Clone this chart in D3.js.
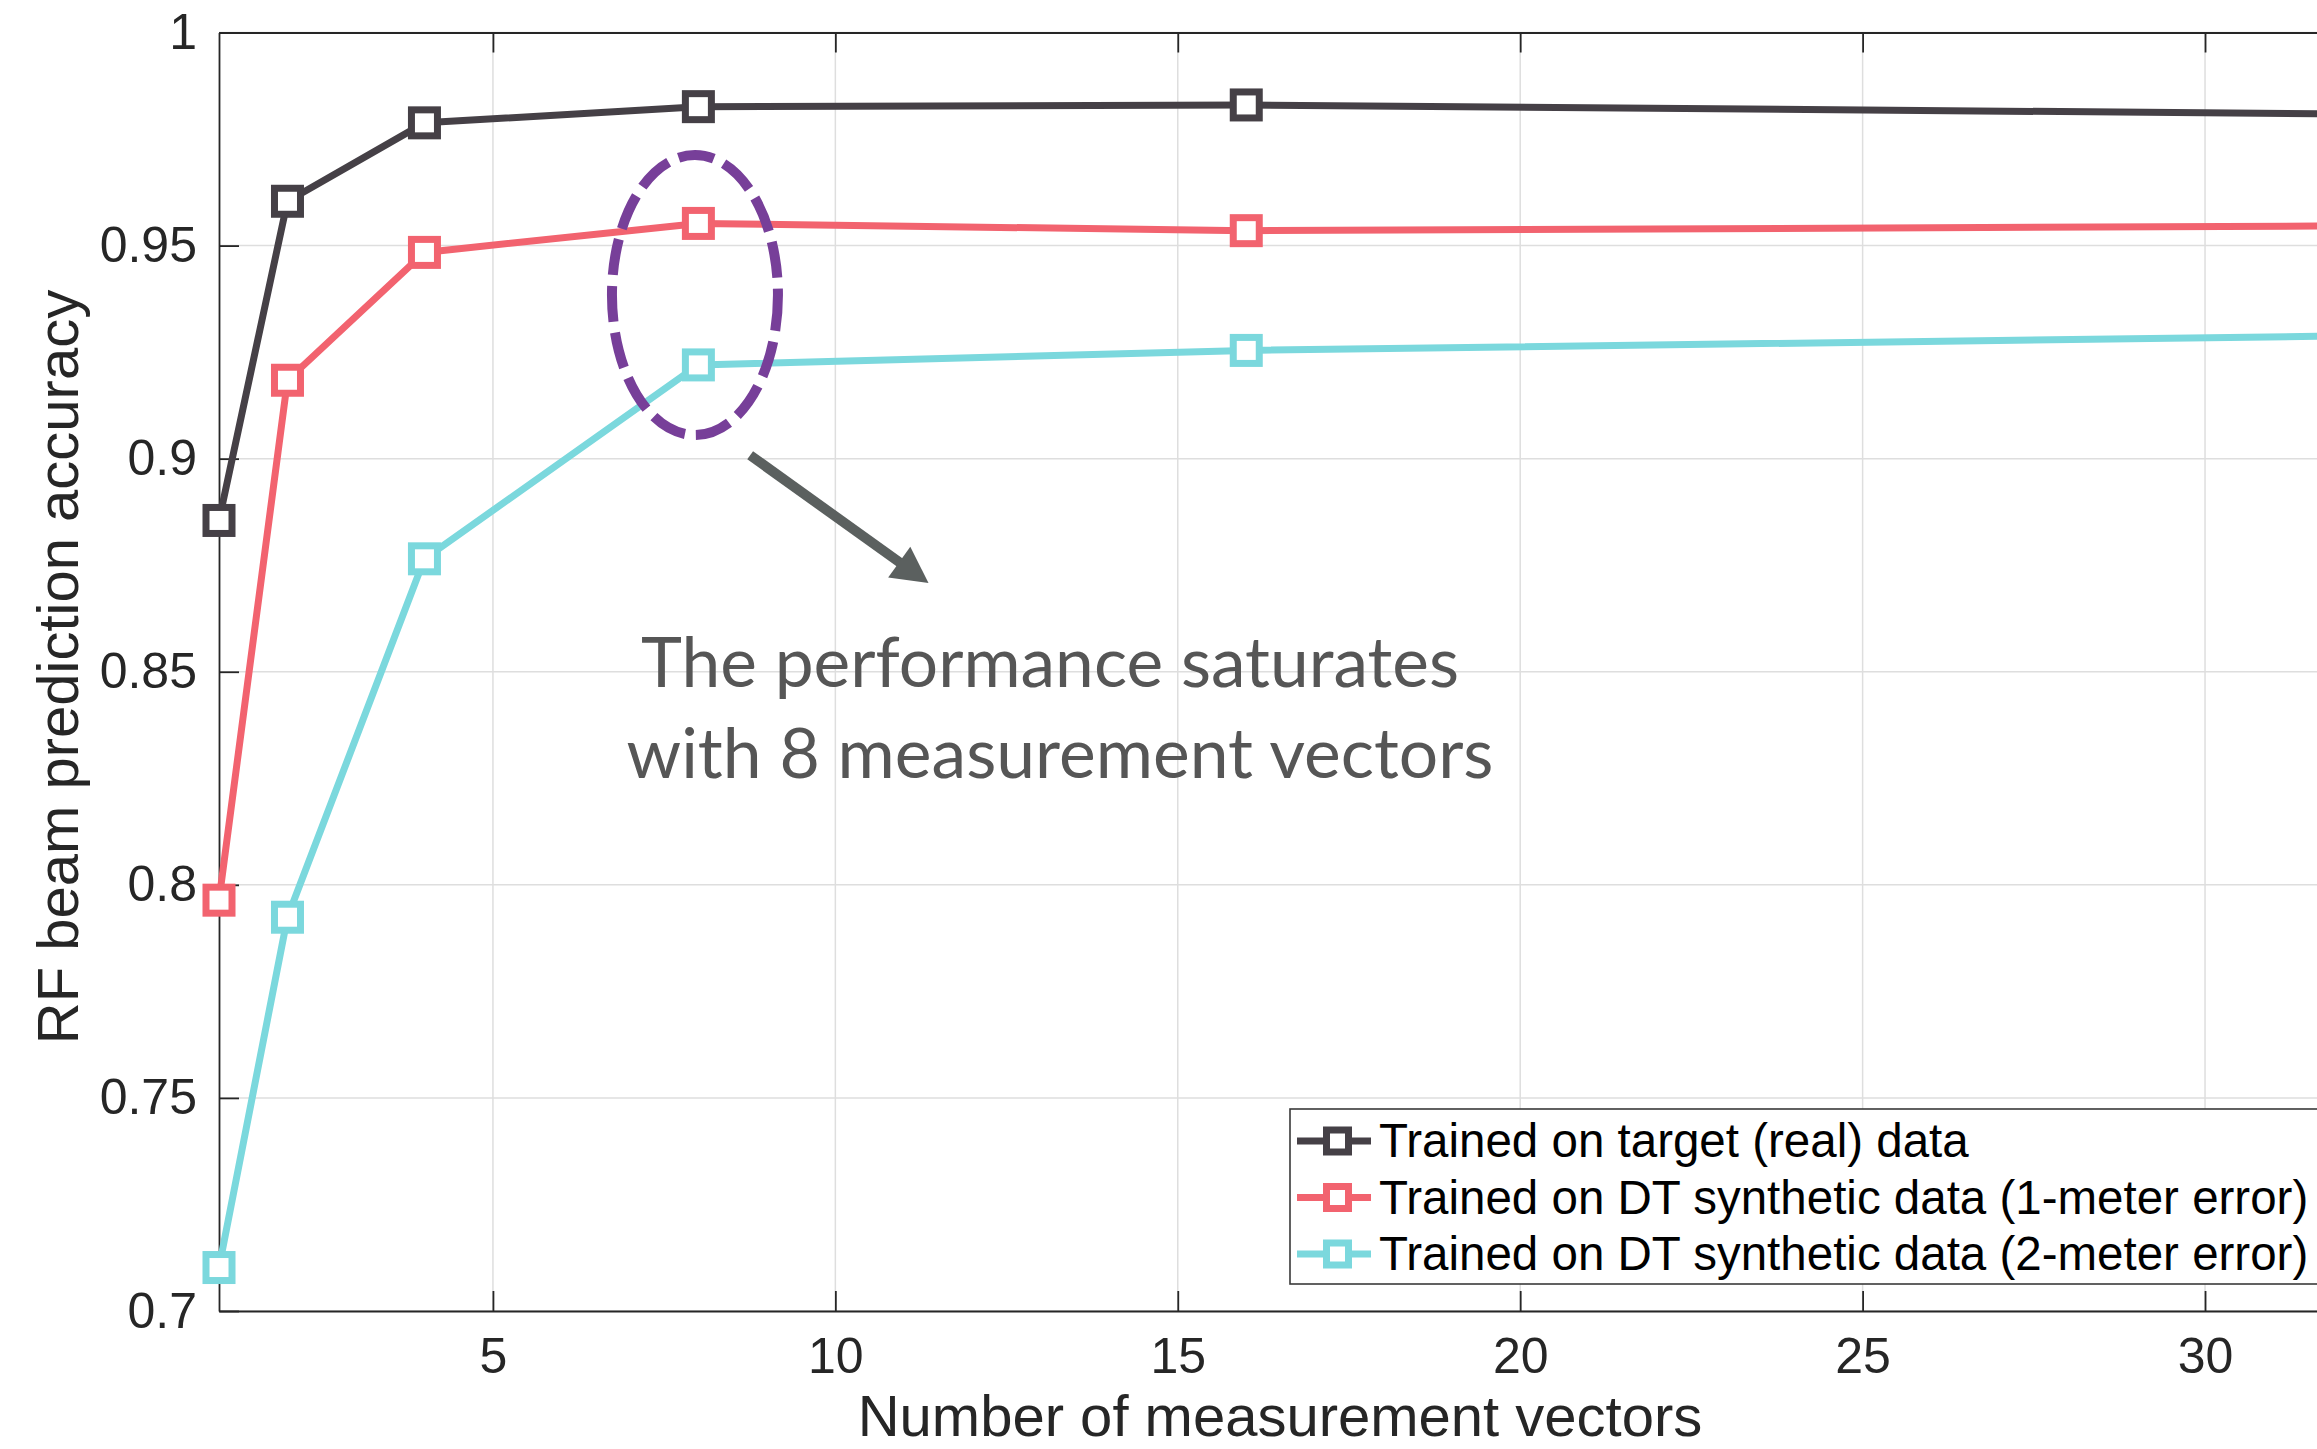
<!DOCTYPE html>
<html>
<head>
<meta charset="utf-8">
<script src="https://cdn.jsdelivr.net/npm/d3@7"></script>
<style>
  body { margin: 0; background: #fff; }
  svg { display: block; }
</style>
</head>
<body>
<div id="chart"></div>
<script>
// values
const xValues = [1, 2, 4, 8, 16, 32];
const realData = [0.8855, 0.9604, 0.9788, 0.9826, 0.9830, 0.9809];
const dt1mData = [0.7964, 0.9184, 0.9484, 0.9552, 0.9535, 0.9546];
const dt2mData = [0.7102, 0.7924, 0.8765, 0.9220, 0.9254, 0.9288];
const seriesNames = [
  'Trained on target (real) data',
  'Trained on DT synthetic data (1-meter error)',
  'Trained on DT synthetic data (2-meter error)'
];
const xTicks = [5, 10, 15, 20, 25, 30];
const yTicks = [0.7, 0.75, 0.8, 0.85, 0.9, 0.95, 1];
const yTickLabels = ['0.7', '0.75', '0.8', '0.85', '0.9', '0.95', '1'];
const xLabel = 'Number of measurement vectors';
const yLabel = 'RF beam prediction accuracy';
const noteLines = ['The performance saturates', 'with 8 measurement vectors'];

const colors = ['#454046', '#f2636f', '#7bd8dd'];
const axisFont = '"Liberation Sans", Arial, Helvetica, sans-serif';

const width = 2317, height = 1449;

const x = d3.scaleLinear().domain([1, 32]).range([219, 2342]);
const y = d3.scaleLinear().domain([0.7, 1]).range([1311, 32.5]);

const svg = d3.select('#chart')
.append('svg')
.attr('width', width)
.attr('height', height);

// grid
const grid = svg.append('g')
.attr('stroke', '#dedede')
.attr('stroke-width', 1.5);

grid.selectAll('.gx')
.data(xTicks)
.enter()
.append('line')
.attr('x1', d => x(d)).attr('x2', d => x(d))
.attr('y1', y(0.7)).attr('y2', y(1));

grid.selectAll('.gy')
.data(yTicks)
.enter()
.append('line')
.attr('x1', x(1)).attr('x2', x(32))
.attr('y1', d => y(d)).attr('y2', d => y(d));

// axes (ticks pointing inside, matlab style)
const styleAxis = g => {
  g.selectAll('path, line').attr('stroke', '#262626').attr('stroke-width', 1.8);
  g.selectAll('text')
  .attr('fill', '#262626')
  .style('font-family', axisFont)
  .style('font-size', '50px');
};

svg.append('g')
.attr('transform', `translate(${x(1)},0)`)
.call(d3.axisLeft(y).tickValues(yTicks).tickFormat((d, i) => yTickLabels[i])
  .tickSizeInner(-20).tickSizeOuter(0).tickPadding(22))
.call(styleAxis);

svg.append('g')
.attr('transform', `translate(0,${y(0.7)})`)
.call(d3.axisBottom(x).tickValues(xTicks).tickFormat(d3.format('d'))
  .tickSizeInner(-20).tickSizeOuter(0).tickPadding(26))
.call(styleAxis);

svg.append('g')
.attr('transform', `translate(0,${y(1)})`)
.call(d3.axisTop(x).tickValues(xTicks).tickFormat('')
  .tickSizeInner(-20).tickSizeOuter(0))
.call(styleAxis);

// axis labels
svg.append('text')
.attr('x', 1280)
.attr('y', 1436)
.attr('text-anchor', 'middle')
.attr('fill', '#262626')
.style('font-family', axisFont)
.style('font-size', '58px')
.text(xLabel);

svg.append('text')
.attr('transform', 'translate(78,667) rotate(-90)')
.attr('text-anchor', 'middle')
.attr('fill', '#262626')
.style('font-family', axisFont)
.style('font-size', '58px')
.text(yLabel);

// series
const series = [realData, dt1mData, dt2mData].map((vals, i) => ({
  name: seriesNames[i],
  color: colors[i],
  points: xValues.map((v, j) => ({ x: v, y: vals[j] }))
}));

const line = d3.line()
.x(d => x(d.x))
.y(d => y(d.y));

const markerSize = 26;

series.forEach(s => {
  svg.append('path')
  .datum(s.points)
  .attr('d', line)
  .attr('fill', 'none')
  .attr('stroke', s.color)
  .attr('stroke-width', 7)
  .attr('stroke-linejoin', 'round');

  svg.append('g')
  .selectAll('rect')
  .data(s.points)
  .enter()
  .append('rect')
  .attr('x', d => x(d.x) - markerSize / 2)
  .attr('y', d => y(d.y) - markerSize / 2)
  .attr('width', markerSize)
  .attr('height', markerSize)
  .attr('fill', '#fff')
  .attr('stroke', s.color)
  .attr('stroke-width', 7);
});

// legend
const legend = svg.append('g');

legend.append('rect')
.attr('x', 1290)
.attr('y', 1109)
.attr('width', 1100)
.attr('height', 175)
.attr('fill', '#fff')
.attr('stroke', '#3a3a3a')
.attr('stroke-width', 1.6);

const rows = legend.selectAll('.row')
.data(series)
.enter()
.append('g')
.attr('transform', (d, i) => `translate(0,${1141 + i * 56.5})`);

rows.append('line')
.attr('x1', 1297).attr('x2', 1371)
.attr('y1', 0).attr('y2', 0)
.attr('stroke', d => d.color)
.attr('stroke-width', 7);

rows.append('rect')
.attr('x', 1337.5 - 11).attr('y', -11)
.attr('width', 22).attr('height', 22)
.attr('fill', '#fff')
.attr('stroke', d => d.color)
.attr('stroke-width', 7);

rows.append('text')
.attr('x', 1379)
.attr('y', 16)
.attr('fill', '#000')
.style('font-family', axisFont)
.style('font-size', '47.5px')
.text(d => d.name);

// annotation: dashed ellipse around x = 8, arrow and note
const ell = { cx: x(7.95), cy: y(0.9384), rx: 83, ry: 140 };

svg.append('ellipse')
.attr('cx', ell.cx)
.attr('cy', ell.cy)
.attr('rx', ell.rx)
.attr('ry', ell.ry)
.attr('fill', 'none')
.attr('stroke', '#773f99')
.attr('stroke-width', 10)
.attr('stroke-dasharray', '36 11');

const a0 = [x(8.756), y(0.9008)];
const a1 = [x(11.36), y(0.8708)];
const ang = Math.atan2(a1[1] - a0[1], a1[0] - a0[0]);
const headLen = 36, headHalf = 19;
const base = [a1[0] - headLen * Math.cos(ang), a1[1] - headLen * Math.sin(ang)];

svg.append('line')
.attr('x1', a0[0]).attr('y1', a0[1])
.attr('x2', base[0] + 2 * Math.cos(ang)).attr('y2', base[1] + 2 * Math.sin(ang))
.attr('stroke', '#5b605f')
.attr('stroke-width', 10);

svg.append('polygon')
.attr('points', [
  a1,
  [base[0] + headHalf * Math.sin(ang), base[1] - headHalf * Math.cos(ang)],
  [base[0] - headHalf * Math.sin(ang), base[1] + headHalf * Math.cos(ang)]
].map(p => p.join(',')).join(' '))
.attr('fill', '#5b605f');

const noteLayout = [
  { cx: 1050, base: 687, len: 818 },
  { cx: 1060, base: 778, len: 867 }
];

svg.append('g')
.selectAll('text')
.data(noteLines)
.enter()
.append('text')
.attr('x', (d, i) => noteLayout[i].cx)
.attr('y', (d, i) => noteLayout[i].base)
.attr('text-anchor', 'middle')
.attr('textLength', (d, i) => noteLayout[i].len)
.attr('lengthAdjust', 'spacingAndGlyphs')
.attr('fill', '#565656')
.style('font-family', 'Lato, "Open Sans", sans-serif')
.style('font-size', '70px')
.text(d => d);
</script>
</body>
</html>
